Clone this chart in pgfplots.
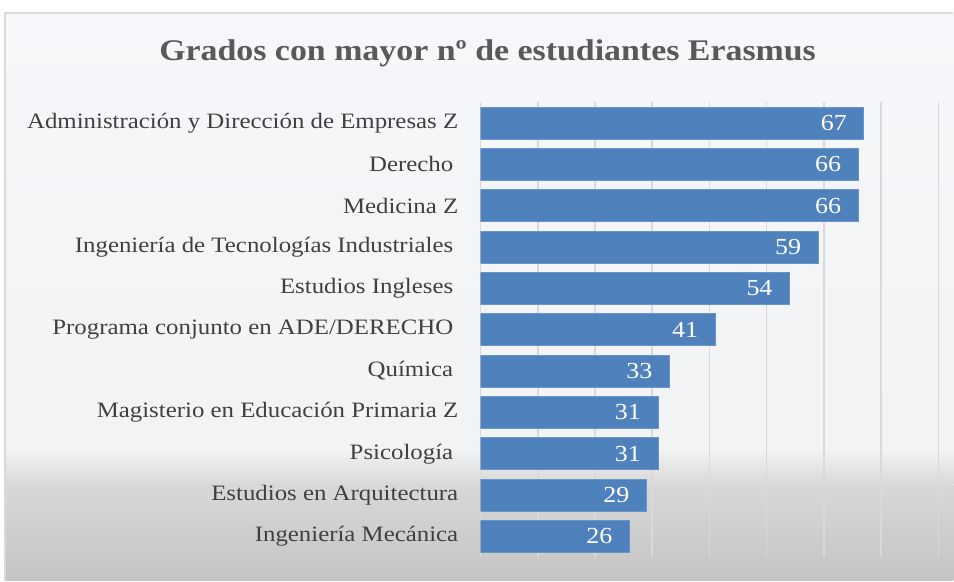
\documentclass[border=0pt]{standalone}
\usepackage{pgfplots}
\pgfplotsset{compat=1.18}
\usepackage{fontspec}
\setmainfont{Liberation Serif}[FakeStretch=1.13]
\definecolor{barc}{HTML}{4F81BD}
\definecolor{gridc}{HTML}{D9D9D9}
\definecolor{labc}{HTML}{404040}
\definecolor{titc}{HTML}{595959}
\definecolor{bgtop}{HTML}{F5F7FA}
\definecolor{bgmid}{HTML}{F2F3F4}
\definecolor{bgmid2}{HTML}{D8D8D8}
\definecolor{bgbot}{HTML}{C4C4C4}
\begin{document}
\begin{tikzpicture}
% background of the chart area (1 px of the reference = 0.5pt)
\fill[white] (0pt,0pt) rectangle (477pt,290.5pt);
\shade[top color=bgtop, bottom color=bgmid] (2.5pt,284pt) rectangle (477pt,65.5pt);
\shade[top color=bgmid, bottom color=bgmid2] (2.5pt,65.7pt) rectangle (477pt,48pt);
\shade[top color=bgmid2, bottom color=bgbot] (2.5pt,48.2pt) rectangle (477pt,0pt);
\draw[gridc, line width=0.75pt] (2.5pt,0pt) -- (2.5pt,284pt) -- (477pt,284pt);
\node[font=\bfseries\fontsize{15}{18}\selectfont, text=titc] at (244pt,264pt) {Grados con mayor nº de estudiantes Erasmus};
\begin{axis}[
    at={(240.5pt,11.75pt)}, anchor=south west,
    scale only axis,
    width=229pt, height=227.5pt,
    xbar, bar width=16pt,
    xmin=0, xmax=80,
    ymin=-0.5, ymax=10.5,
    y dir=reverse,
    xtick={0,10,...,80}, xticklabels={},
    ytick={0,...,10},
    yticklabels={
      Administración y Dirección de Empresas Z,
      Derecho\hspace*{2.5pt},
      Medicina Z,
      Ingeniería de Tecnologías Industriales\hspace*{2.5pt},
      Estudios Ingleses\hspace*{2.5pt},
      Programa conjunto en ADE/DERECHO\hspace*{2.5pt},
      Química\hspace*{2.5pt},
      Magisterio en Educación Primaria Z,
      Psicología\hspace*{2.5pt},
      Estudios en Arquitectura,
      Ingeniería Mecánica},
    yticklabel style={font=\fontsize{11}{13}\selectfont, text=labc, inner sep=0pt, xshift=-11pt},
    xmajorgrids,
    grid style={gridc, line width=0.75pt},
    axis line style={draw=none},
    major tick length=0pt,
    /pgf/number format/assume math mode=true,
    nodes near coords,
    nodes near coords align={anchor=east},
    every node near coord/.append style={font=\fontsize{11.5}{13}\selectfont, text=white, xshift=-5pt},
]
\addplot[fill=barc, draw=barc!85!white] coordinates {
  (67,0) (66,1) (66,2) (59,3) (54,4) (41,5) (33,6) (31,7) (31,8) (29,9) (26,10)
};
\end{axis}
\end{tikzpicture}
\end{document}
